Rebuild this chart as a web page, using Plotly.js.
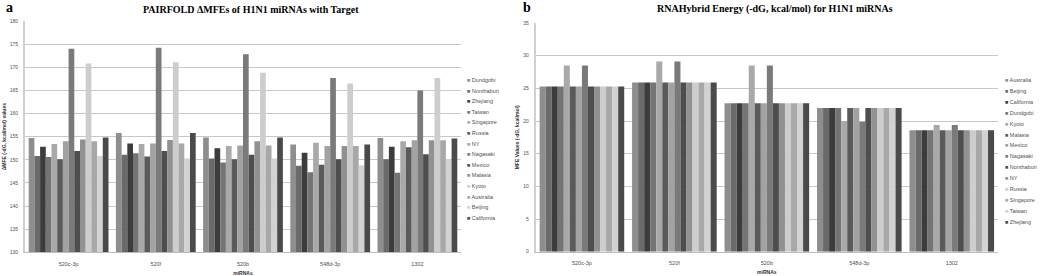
<!DOCTYPE html>
<html>
<head>
<meta charset="utf-8">
<script src="https://cdn.plot.ly/plotly-3.0.1.min.js"></script>
<style>html,body{margin:0;padding:0;background:#fff;}#chart{width:1040px;height:276px;}</style>
</head>
<body>
<div id="chart"></div>
<script>
// ---- categories ----
const miRNAs = ['520c-3p', '520f', '520b', '548d-3p', '1302'];

// ---- panel a: PAIRFOLD ΔMFE (series order as in legend) ----
const seriesA = ['Dundgobi', 'Nonthaburi', 'Zhejiang', 'Taiwan', 'Singapore', 'Russia', 'NY',
                 'Nagasaki', 'Mexico', 'Malasia', 'Kyoto', 'Australia', 'Beijing', 'California'];
const a_Dundgobi   = [154.7, 155.8, 154.8, 153.3, 154.7];
const a_Nonthaburi = [150.8, 151.1, 150.3, 148.7, 150.1];
const a_Zhejiang   = [152.8, 153.5, 152.5, 151.5, 152.8];
const a_Taiwan     = [150.6, 151.4, 149.4, 147.3, 147.2];
const a_Singapore  = [153.4, 153.4, 153.0, 153.7, 154.0];
const a_Russia     = [150.1, 150.7, 150.1, 148.9, 152.7];
const a_NY         = [154.0, 153.5, 153.1, 153.0, 154.2];
const a_Nagasaki   = [174.0, 174.2, 172.8, 167.7, 165.0];
const a_Mexico     = [151.9, 151.9, 151.1, 150.1, 151.2];
const a_Malasia    = [154.4, 154.3, 154.0, 153.0, 154.2];
const a_Kyoto      = [170.8, 171.1, 168.8, 166.5, 167.7];
const a_Australia  = [154.0, 153.5, 153.1, 153.0, 154.2];
const a_Beijing    = [150.8, 150.3, 150.3, 148.8, 150.1];
const a_California = [154.8, 155.8, 154.8, 153.3, 154.6];
const valuesA = [a_Dundgobi, a_Nonthaburi, a_Zhejiang, a_Taiwan, a_Singapore, a_Russia, a_NY,
                 a_Nagasaki, a_Mexico, a_Malasia, a_Kyoto, a_Australia, a_Beijing, a_California];
const ticksA = [130, 135, 140, 145, 150, 155, 160, 165, 170, 175, 180];

// ---- panel b: RNAHybrid energy ----
const seriesB = ['Australia', 'Beijing', 'California', 'Dundgobi', 'Kyoto', 'Malasia', 'Mexico',
                 'Nagasaki', 'Nonthaburi', 'NY', 'Russia', 'Singapore', 'Taiwan', 'Zhejiang'];
const b_Australia  = [25.3, 25.9, 22.7, 22.0, 18.6];
const b_Beijing    = [25.3, 25.9, 22.7, 22.0, 18.6];
const b_California = [25.3, 25.9, 22.7, 22.0, 18.6];
const b_Dundgobi   = [25.3, 25.9, 22.7, 22.0, 18.6];
const b_Kyoto      = [28.5, 29.1, 28.5, 20.0, 19.4];
const b_Malasia    = [25.3, 25.9, 22.7, 22.0, 18.6];
const b_Mexico     = [25.3, 25.9, 22.7, 22.0, 18.6];
const b_Nagasaki   = [28.5, 29.1, 28.5, 19.9, 19.4];
const b_Nonthaburi = [25.3, 25.9, 22.7, 22.0, 18.6];
const b_NY         = [25.3, 25.9, 22.7, 22.0, 18.6];
const b_Russia     = [25.3, 25.9, 22.7, 22.0, 18.6];
const b_Singapore  = [25.3, 25.9, 22.7, 22.0, 18.6];
const b_Taiwan     = [25.3, 25.9, 22.7, 22.0, 18.6];
const b_Zhejiang   = [25.3, 25.9, 22.7, 22.0, 18.6];
const valuesB = [b_Australia, b_Beijing, b_California, b_Dundgobi, b_Kyoto, b_Malasia, b_Mexico,
                 b_Nagasaki, b_Nonthaburi, b_NY, b_Russia, b_Singapore, b_Taiwan, b_Zhejiang];
const ticksB = [0, 5, 10, 15, 20, 25, 30, 35];

// ---- styling ----
const palette = ['#8e8e8e', '#6a6a6a', '#3c3c3c', '#747474', '#a9a9a9', '#5a5a5a', '#a2a2a2',
                 '#7a7a7a', '#4e4e4e', '#919191', '#cdcdcd', '#a8a8a8', '#d2d2d2', '#4a4a4a'];
const W = 1040, H = 276;
const px = x => x / W;
const py = y => (H - y) / H;
const sans = 'Liberation Sans, Arial, sans-serif';
const serif = 'Liberation Serif, Times New Roman, serif';

const traces = [];
seriesA.forEach((name, i) => traces.push({
  type: 'bar', name: name, x: miRNAs, y: valuesA[i], xaxis: 'x', yaxis: 'y',
  marker: {color: palette[i], line: {width: 0}}, showlegend: false
}));
seriesB.forEach((name, i) => traces.push({
  type: 'bar', name: name, x: miRNAs, y: valuesB[i], xaxis: 'x2', yaxis: 'y2',
  marker: {color: palette[i], line: {width: 0}}, showlegend: false
}));

const annotations = [];
function legend(names, x0, y0, step) {
  names.forEach((n, i) => annotations.push({
    xref: 'paper', yref: 'paper', x: px(x0), y: py(y0 + i * step),
    xanchor: 'left', yanchor: 'middle', showarrow: false,
    text: '<span style="color:' + palette[i] + '">■</span> ' + n,
    font: {family: sans, size: 5.5, color: '#505050'}
  }));
}
legend(seriesA, 465, 80, 10.6);
legend(seriesB, 1003, 80, 10.9);

// panel letters and titles
annotations.push({xref: 'paper', yref: 'paper', x: px(4), y: py(7), xanchor: 'left', yanchor: 'middle',
  showarrow: false, text: '<b>a</b>', font: {family: serif, size: 14, color: '#000'}});
annotations.push({xref: 'paper', yref: 'paper', x: px(521), y: py(7), xanchor: 'left', yanchor: 'middle',
  showarrow: false, text: '<b>b</b>', font: {family: serif, size: 14, color: '#000'}});
annotations.push({xref: 'paper', yref: 'paper', x: px(251), y: py(9), xanchor: 'center', yanchor: 'middle',
  showarrow: false, text: '<b>PAIRFOLD ΔMFEs of H1N1 miRNAs with Target</b>', font: {family: serif, size: 10, color: '#000'}});
annotations.push({xref: 'paper', yref: 'paper', x: px(775), y: py(9), xanchor: 'center', yanchor: 'middle',
  showarrow: false, text: '<b>RNAHybrid Energy (-dG, kcal/mol) for H1N1 miRNAs</b>', font: {family: serif, size: 10, color: '#000'}});

const tickFont = {family: sans, size: 5, color: '#505050'};
const axTitleFont = {family: sans, size: 5, color: '#303030'};

const layout = {
  width: W, height: H,
  margin: {l: 0, r: 0, t: 0, b: 0},
  paper_bgcolor: '#fff', plot_bgcolor: '#fff',
  barmode: 'group', bargap: 0.085, bargroupgap: 0,
  showlegend: false,
  xaxis: {domain: [px(25), px(461)], anchor: 'y', type: 'category', showgrid: false,
    showline: true, linecolor: '#bdbdbd', linewidth: 1, ticks: '', tickfont: {family: sans, size: 5.5, color: '#505050'},
    ticklabelstandoff: 6, automargin: false,
    title: {text: '<b>miRNAs</b>', font: axTitleFont, standoff: 5}},
  yaxis: {domain: [py(252.3), py(21)], anchor: 'x', range: [130, 180], tickvals: ticksA,
    showgrid: true, gridcolor: '#c8c8c8', gridwidth: 1, zeroline: false,
    showline: true, linecolor: '#d0d0d0', linewidth: 2, ticks: '', tickfont: tickFont,
    ticklabelstandoff: 4, automargin: false,
    title: {text: '<b>ΔMFE (-dG, kcal/mol) values</b>', font: axTitleFont, standoff: 3}},
  xaxis2: {domain: [px(535.7), px(998)], anchor: 'y2', type: 'category', showgrid: false,
    showline: true, linecolor: '#bdbdbd', linewidth: 1, ticks: '', tickfont: {family: sans, size: 5.5, color: '#505050'},
    ticklabelstandoff: 6, automargin: false,
    title: {text: '<b>miRNAs</b>', font: axTitleFont, standoff: 5}},
  yaxis2: {domain: [py(251.7), py(23)], anchor: 'x2', range: [0, 35], tickvals: ticksB,
    showgrid: true, gridcolor: '#c8c8c8', gridwidth: 1, zeroline: false,
    showline: true, linecolor: '#d0d0d0', linewidth: 2, ticks: '', tickfont: tickFont,
    ticklabelstandoff: 4, automargin: false,
    title: {text: '<b>MFE Values (-dG, kcal/mol)</b>', font: axTitleFont, standoff: 3}},
  annotations: annotations
};

Plotly.newPlot('chart', traces, layout, {staticPlot: true, displayModeBar: false});
</script>
</body>
</html>
